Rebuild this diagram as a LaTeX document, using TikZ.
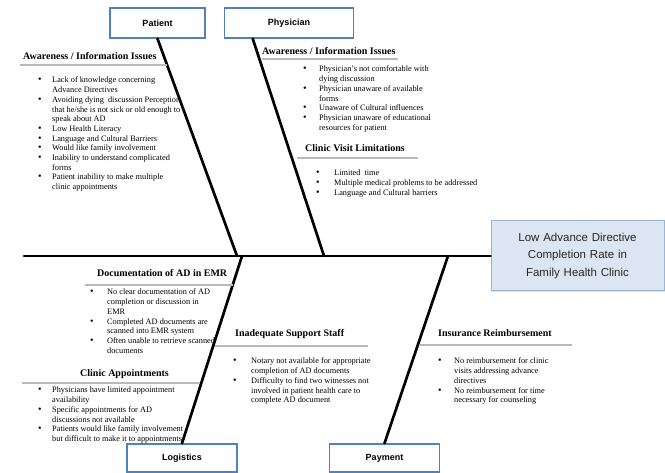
\documentclass[tikz,border=0pt]{standalone}
\usepackage{fontspec}
\setmainfont{Liberation Serif}
\newfontfamily\arialfont{Liberation Sans}
\usetikzlibrary{positioning, shadows}
\definecolor{boxblue}{HTML}{4F81BD}
\definecolor{headfill}{HTML}{DCE6F2}
\definecolor{headline}{HTML}{9DB3CF}
\tikzset{
  catbox/.style={
    rectangle, draw=boxblue, line width=1.5pt, fill=white, minimum height=30pt,
    inner sep=0pt, font=\arialfont\bfseries\fontsize{9}{11}\selectfont
  },
  headbox/.style={
    rectangle, draw=headline, line width=1pt, fill=headfill, minimum width=173pt,
    minimum height=70pt, text width=165pt, align=center, text=black!85,
    font=\arialfont\fontsize{11.5}{17.5}\selectfont,
    drop shadow={opacity=0.25, shadow xshift=1.2pt, shadow yshift=-1.2pt}
  },
  bone/.style={line width=2.7pt, line cap=round},
  rule/.style={draw=gray!55, line width=1.3pt},
  cause/.style={anchor=base west, inner sep=0pt, font=\bfseries\fontsize{10}{12}\selectfont},
  itemlist/.style={anchor=north west, inner sep=0pt, align=left, font=\fontsize{8.3}{9.7}\selectfont}
}
\newcommand{\bul}{{\fontsize{10}{9.7}\selectfont\textbullet}}

\begin{document}
\begin{tikzpicture}[x=1pt, y=-1pt]
    \useasboundingbox (0,0) rectangle (665,473);

    % category boxes and effect
    \node[catbox, minimum width=95pt] (pat) at (157.5,23) {Patient};
    \node[catbox, minimum width=129pt, right=18pt of pat] (phy) {Physician};
    \node[catbox, minimum width=110pt, minimum height=28pt] (log) at (182,458) {Logistics};
    \node[catbox, minimum width=110pt, minimum height=28pt, right=91pt of log] (pay) {Payment};
    \node[headbox] (head) at (577.5,256) {Low Advance Directive\\Completion Rate in\\Family Health Clinic};

    % spine and bones
    \coordinate (tail) at (24,256);
    \coordinate (patj) at (237,256);
    \coordinate (phyj) at (324,256);
    \coordinate (logj) at (242,256);
    \coordinate (payj) at (448,256);
    \draw[bone] (tail) -- (head.west);
    \draw[bone] (pat.south) -- (patj);
    \draw[bone] ([xshift=29pt]phy.south west) -- (phyj);
    \draw[bone] (log.north) -- (logj);
    \draw[bone] (pay.north) -- (payj);

    % patient causes
    \node[cause] (patinfo) at (23,60) {Awareness / Information Issues};
    \draw[rule] (20,65) -- (167,65);
    \node[itemlist] (patinfolist) at (38,76) {\begin{tabular}{@{}p{14pt}@{}l@{}}
      \bul & Lack of knowledge concerning\\
           & Advance Directives\\
      \bul & Avoiding dying\ \ discussion Perception\\
           & that he/she is not sick or old enough to\\
           & speak about AD\\
      \bul & Low Health Literacy\\
      \bul & Language and Cultural Barriers\\
      \bul & Would like family involvement\\
      \bul & Inability to understand complicated\\
           & forms\\
      \bul & Patient inability to make multiple\\
           & clinic appointments
    \end{tabular}};

    % physician causes
    \node[cause] (phyinfo) at (262,55) {Awareness / Information Issues};
    \draw[rule] (262,59) -- (398,59);
    \node[itemlist] (phyinfolist) at (303,65) {\begin{tabular}{@{}p{16pt}@{}l@{}}
      \bul & Physician's not comfortable with\\
           & dying discussion\\
      \bul & Physician unaware of available\\
           & forms\\
      \bul & Unaware of Cultural influences\\
      \bul & Physician unaware of educational\\
           & resources for patient
    \end{tabular}};
    \node[cause] (phyvisit) at (305,152) {Clinic Visit Limitations};
    \draw[rule] (297,158) -- (418,158);
    \node[itemlist] (phyvisitlist) at (316,169) {\begin{tabular}{@{}p{18pt}@{}l@{}}
      \bul & Limited\ \ time\\
      \bul & Multiple medical problems to be addressed\\
      \bul & Language and Cultural barriers
    \end{tabular}};

    % logistics causes
    \node[cause] (logemr) at (97,277) {Documentation of AD in EMR};
    \draw[rule] (85,285) -- (233,285);
    \node[itemlist] (logemrlist) at (90,288) {\begin{tabular}{@{}p{17pt}@{}l@{}}
      \bul & No clear documentation of AD\\
           & completion or discussion in\\
           & EMR\\
      \bul & Completed AD documents are\\
           & scanned into EMR system\\
      \bul & Often unable to retrieve scanned\\
           & documents
    \end{tabular}};
    \node[cause] (logappt) at (80,377) {Clinic Appointments};
    \draw[rule] (22,383) -- (200,383);
    \node[itemlist] (logapptlist) at (38,386) {\begin{tabular}{@{}p{14pt}@{}l@{}}
      \bul & Physicians have limited appointment\\
           & availability\\
      \bul & Specific appointments for AD\\
           & discussions not available\\
      \bul & Patients would like family involvement\\
           & but difficult to make it to appointments
    \end{tabular}};
    \node[cause] (logstaff) at (235,337) {Inadequate Support Staff};
    \draw[rule] (215,346) -- (368,346);
    \node[itemlist] (logstafflist) at (233,357) {\begin{tabular}{@{}p{18pt}@{}l@{}}
      \bul & Notary not available for appropriate\\
           & completion of AD documents\\
      \bul & Difficulty to find two witnesses not\\
           & involved in patient health care to\\
           & complete AD document
    \end{tabular}};

    % payment causes
    \node[cause] (payins) at (438,337) {Insurance Reimbursement};
    \draw[rule] (420,345) -- (572,345);
    \node[itemlist] (payinslist) at (438,357) {\begin{tabular}{@{}p{16pt}@{}l@{}}
      \bul & No reimbursement for clinic\\
           & visits addressing advance\\
           & directives\\
      \bul & No reimbursement for time\\
           & necessary for counseling
    \end{tabular}};
\end{tikzpicture}
\end{document}
